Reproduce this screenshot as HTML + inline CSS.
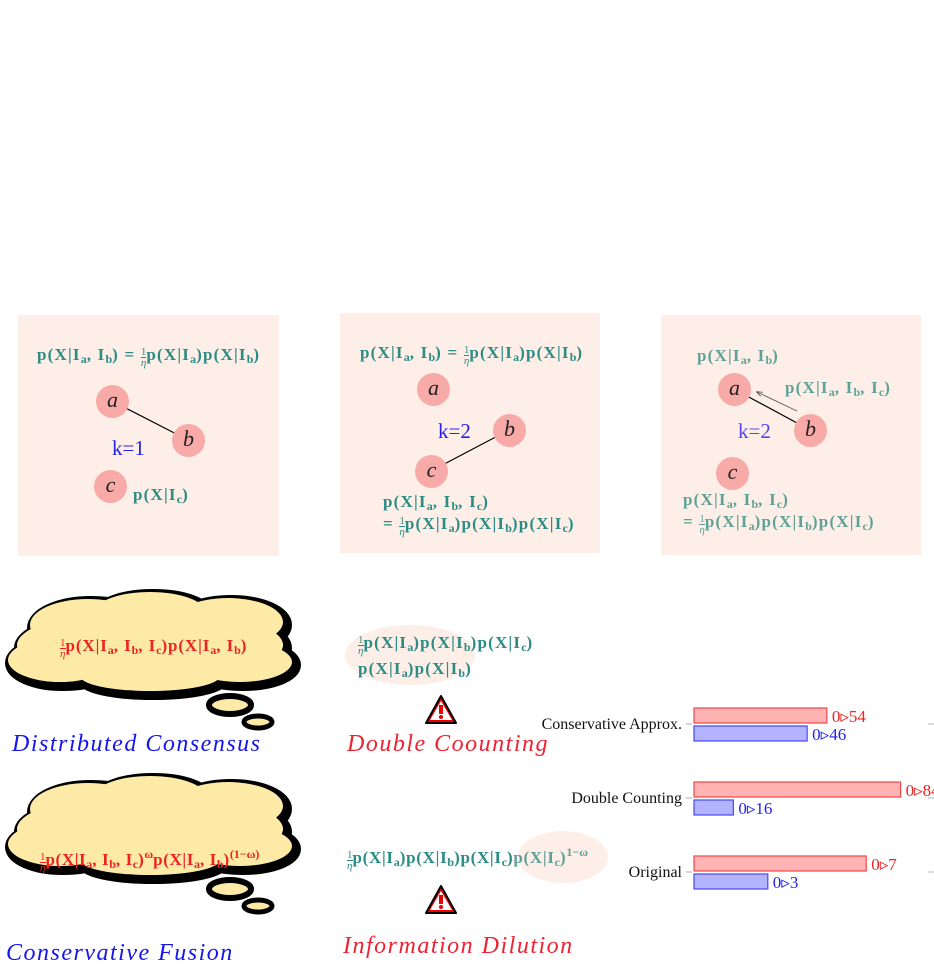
<!DOCTYPE html>
<html><head><meta charset="utf-8">
<style>
body{margin:0;width:934px;height:965px;background:#fff;position:relative;overflow:hidden;font-family:"Liberation Serif",serif}
.a{position:absolute;white-space:nowrap}
.f{font-weight:bold;font-size:17px;letter-spacing:1.2px;color:#2a8c84}
.f sub{font-size:12px;vertical-align:-3px;letter-spacing:0}
.f sup{font-size:12px;vertical-align:7px;letter-spacing:0}
.lt{color:#5fa196}
.fr{display:inline-block;vertical-align:-6px;font-size:11px;text-align:center;line-height:10px;font-weight:normal;font-style:italic;letter-spacing:0}
.fr span{display:block}
.fr span:first-child{border-bottom:1px solid currentColor;font-style:normal}
.panel{position:absolute;background:#fdefe7}
.node{position:absolute;width:33px;height:33px;border-radius:50%;background:#f8aaa8;font-style:italic;font-size:22px;text-align:center;line-height:30px;color:#222}
.k{font-size:21px;color:#2222ee}
.title{font-size:24px;font-style:italic;letter-spacing:1.5px}
</style></head><body>

<div class="panel" style="left:18px;top:315px;width:261px;height:241px"></div>
<div class="panel" style="left:340px;top:313px;width:260px;height:240px"></div>
<div class="panel" style="left:661px;top:315px;width:260px;height:240px"></div>

<svg class="a" style="left:0;top:0" width="934" height="965">
<defs><marker id="ar" markerWidth="8" markerHeight="6" refX="7" refY="3" orient="auto"><path d="M0,0 L8,3 L0,6" fill="none" stroke="#444" stroke-width="1"/></marker></defs>
<line x1="112" y1="401" x2="188" y2="440" stroke="#000" stroke-width="1.2"/>
<line x1="431" y1="471" x2="509" y2="430" stroke="#000" stroke-width="1.2"/>
<line x1="734" y1="389" x2="810" y2="430" stroke="#000" stroke-width="1.2"/>
<line x1="797" y1="411" x2="757" y2="392" stroke="#555" stroke-width="0.8" marker-end="url(#ar)"/>
<ellipse cx="410" cy="655" rx="65" ry="30" fill="#fdefe7"/>
<ellipse cx="563" cy="857" rx="45" ry="26" fill="#fdefe7"/>
</svg>

<!-- panel 1 -->
<div class="a f" style="left:37px;top:345px">p(X|I<sub>a</sub>, I<sub>b</sub>) = <span class="fr"><span>1</span><span>η</span></span>p(X|I<sub>a</sub>)p(X|I<sub>b</sub>)</div>
<div class="node" style="left:96px;top:385px">a</div>
<div class="node" style="left:172px;top:424px">b</div>
<div class="node" style="left:94px;top:470px">c</div>
<div class="a k" style="left:112px;top:436px">k=1</div>
<div class="a f" style="left:133px;top:485px">p(X|I<sub>c</sub>)</div>

<!-- panel 2 -->
<div class="a f" style="left:360px;top:343px">p(X|I<sub>a</sub>, I<sub>b</sub>) = <span class="fr"><span>1</span><span>η</span></span>p(X|I<sub>a</sub>)p(X|I<sub>b</sub>)</div>
<div class="node" style="left:417px;top:373px">a</div>
<div class="node" style="left:493px;top:414px">b</div>
<div class="node" style="left:415px;top:455px">c</div>
<div class="a k" style="left:438px;top:419px">k=2</div>
<div class="a f" style="left:383px;top:493px;line-height:18px">p(X|I<sub>a</sub>, I<sub>b</sub>, I<sub>c</sub>)<br>= <span class="fr"><span>1</span><span>η</span></span>p(X|I<sub>a</sub>)p(X|I<sub>b</sub>)p(X|I<sub>c</sub>)</div>

<!-- panel 3 -->
<div class="a f lt" style="left:697px;top:346px">p(X|I<sub>a</sub>, I<sub>b</sub>)</div>
<div class="node" style="left:718px;top:373px">a</div>
<div class="node" style="left:794px;top:414px">b</div>
<div class="node" style="left:716px;top:457px">c</div>
<div class="a f lt" style="left:785px;top:378px">p(X|I<sub>a</sub>, I<sub>b</sub>, I<sub>c</sub>)</div>
<div class="a k" style="left:738px;top:419px;color:#5544ee">k=2</div>
<div class="a f lt" style="left:683px;top:491px;line-height:18px">p(X|I<sub>a</sub>, I<sub>b</sub>, I<sub>c</sub>)<br>= <span class="fr"><span>1</span><span>η</span></span>p(X|I<sub>a</sub>)p(X|I<sub>b</sub>)p(X|I<sub>c</sub>)</div>

<!-- clouds -->
<svg class="a" style="left:0;top:0" width="320" height="965">
<g id="cl">
 <g transform="translate(3,3)" fill="#000" stroke="#000" stroke-width="12">
  <ellipse cx="150" cy="645" rx="133" ry="36"/><ellipse cx="88" cy="625" rx="58" ry="26"/><ellipse cx="150" cy="612" rx="55" ry="20"/><ellipse cx="228" cy="622" rx="55" ry="24"/><ellipse cx="60" cy="660" rx="52" ry="22"/><ellipse cx="150" cy="676" rx="70" ry="15"/><ellipse cx="240" cy="662" rx="52" ry="20"/>
 </g>
 <g fill="#fdeaa6">
  <ellipse cx="150" cy="645" rx="133" ry="36"/><ellipse cx="88" cy="625" rx="58" ry="26"/><ellipse cx="150" cy="612" rx="55" ry="20"/><ellipse cx="228" cy="622" rx="55" ry="24"/><ellipse cx="60" cy="660" rx="52" ry="22"/><ellipse cx="150" cy="676" rx="70" ry="15"/><ellipse cx="240" cy="662" rx="52" ry="20"/>
 </g>
 <ellipse cx="230" cy="705" rx="21" ry="9" fill="#fdeaa6" stroke="#000" stroke-width="6"/>
 <ellipse cx="258" cy="722" rx="14" ry="6" fill="#fdeaa6" stroke="#000" stroke-width="5"/>
</g>
<use href="#cl" transform="translate(0,184)"/>
</svg>
<div class="a f" style="left:60px;top:636px;color:#ee2222;letter-spacing:0.9px"><span class="fr"><span>1</span><span>η</span></span>p(X|I<sub>a</sub>, I<sub>b</sub>, I<sub>c</sub>)p(X|I<sub>a</sub>, I<sub>b</sub>)</div>
<div class="a f" style="left:40px;top:847px;color:#ee2222;letter-spacing:0.6px"><span class="fr"><span>1</span><span>η</span></span>p(X|I<sub>a</sub>, I<sub>b</sub>, I<sub>c</sub>)<sup>ω</sup>p(X|I<sub>a</sub>, I<sub>b</sub>)<sup>(1−ω)</sup></div>
<div class="a title" style="left:12px;top:731px;color:#1515ee">Distributed Consensus</div>
<div class="a title" style="left:6px;top:940px;color:#1515ee">Conservative Fusion</div>

<!-- middle -->
<div class="a f" style="left:358px;top:632px;line-height:21px"><span class="fr"><span>1</span><span>η</span></span>p(X|I<sub>a</sub>)p(X|I<sub>b</sub>)p(X|I<sub>c</sub>)<br>p(X|I<sub>a</sub>)p(X|I<sub>b</sub>)</div>
<div class="a f" style="left:347px;top:845px;letter-spacing:0.7px"><span class="fr"><span>1</span><span>η</span></span>p(X|I<sub>a</sub>)p(X|I<sub>b</sub>)p(X|I<sub>c</sub>)<span class="lt">p(X|I<sub>c</sub>)<sup>1−ω</sup></span></div>
<svg class="a" style="left:423px;top:693px" width="36" height="34"><path d="M18,3 L33,30 L3,30 Z" fill="#e00" stroke="#000" stroke-width="2" stroke-linejoin="round"/><path d="M18,8 L29,27 L7,27 Z" fill="#fff"/><rect x="16" y="12" width="4" height="9" fill="#e00"/><circle cx="18" cy="24" r="2" fill="#e00"/></svg>
<svg class="a" style="left:423px;top:883px" width="36" height="34"><path d="M18,3 L33,30 L3,30 Z" fill="#e00" stroke="#000" stroke-width="2" stroke-linejoin="round"/><path d="M18,8 L29,27 L7,27 Z" fill="#fff"/><rect x="16" y="12" width="4" height="9" fill="#e00"/><circle cx="18" cy="24" r="2" fill="#e00"/></svg>
<div class="a title" style="left:347px;top:731px;color:#ee2233">Double Coounting</div>
<div class="a title" style="left:343px;top:933px;color:#ee2233">Information Dilution</div>

<!-- bar chart -->
<svg id="chart" class="a" style="left:0;top:0" width="934" height="965"></svg>
<script>
const categories = ["Conservative Approx.", "Double Counting", "Original"];
const redValues = [0.54, 0.84, 0.7];
const blueValues = [0.46, 0.16, 0.3];
const redLabels = ["0▹54", "0▹84", "0▹7"];
const blueLabels = ["0▹46", "0▹16", "0▹3"];
const svg = document.getElementById('chart');
const NS = 'http://www.w3.org/2000/svg';
const x = v => 694 + v * 246;
const yc = i => 724 + i * 74;
function mk(tag, attrs){const e=document.createElementNS(NS,tag);for(const k in attrs)e.setAttribute(k,attrs[k]);svg.appendChild(e);return e;}
categories.forEach((c,i)=>{
  const y=yc(i);
  const t=mk('text',{x:682,y:y+5,'text-anchor':'end','font-size':16,'font-family':'Liberation Serif',fill:'#111'});
  t.textContent=c;
  
  
  const tk=mk('line',{x1:686,x2:692,y1:y,y2:y,stroke:'#aaa'});
  
  
  const tk2=mk('line',{x1:928,x2:934,y1:y,y2:y,stroke:'#bbb'});
  
  
  const r=mk('rect',{x:694,y:y-16,width:x(redValues[i])-694,height:15,fill:'#ffb3b3',stroke:'#f04848','stroke-width':1.2});
  
  
  const b=mk('rect',{x:694,y:y+2,width:x(blueValues[i])-694,height:15,fill:'#b3b3ff',stroke:'#4848f0','stroke-width':1.2});
  
  
  const rl=mk('text',{x:x(redValues[i])+5,y:y-2,'font-size':17,'font-family':'Liberation Serif',fill:'#ee2222'});
  rl.textContent=redLabels[i];
  
  
  const bl=mk('text',{x:x(blueValues[i])+5,y:y+16,'font-size':17,'font-family':'Liberation Serif',fill:'#2222ee'});
  bl.textContent=blueLabels[i];
  
  
});
</script>
</body></html>
